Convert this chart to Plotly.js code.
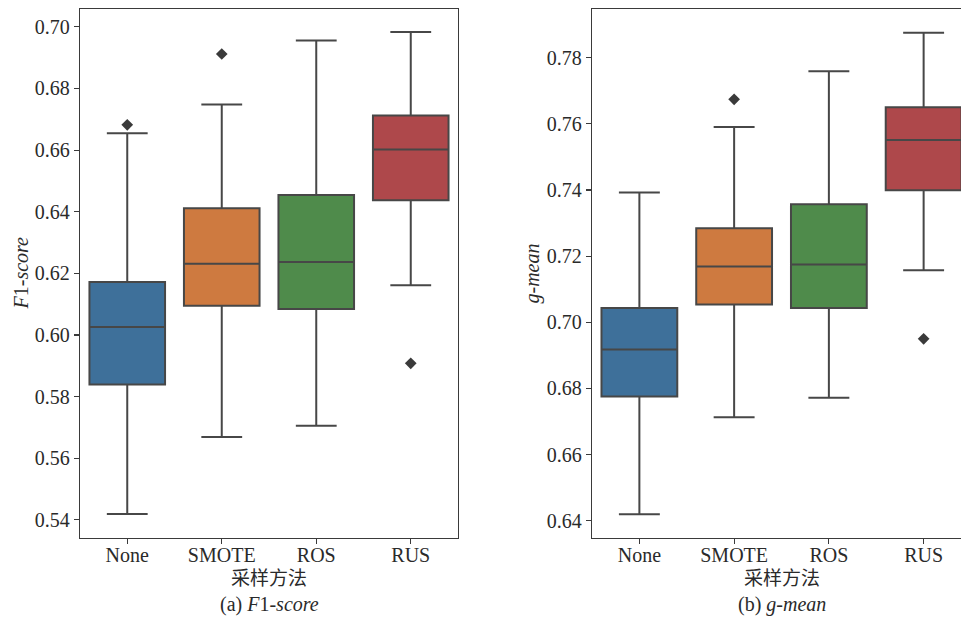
<!DOCTYPE html>
<html>
<head>
<meta charset="utf-8">
<script src="https://cdn.plot.ly/plotly-3.0.1.min.js"></script>
<style>
html, body { margin: 0; padding: 0; overflow: hidden; background: #fff; }
#chart { width: 972px; height: 617px; }
</style>
</head>
<body>
<div id="chart"></div>
<script>
// Categories and colors
const categories = ["None", "SMOTE", "ROS", "RUS"];
const boxColors = ["#3E709A", "#CE7A40", "#4F8B4B", "#AE484B"];

// (a) F1-score box statistics
const f1Lower  = [0.5419, 0.5669, 0.5705, 0.6161];
const f1Q1     = [0.5839, 0.6095, 0.6084, 0.6437];
const f1Median = [0.6026, 0.6231, 0.6237, 0.6602];
const f1Q3     = [0.6172, 0.6411, 0.6454, 0.6712];
const f1Upper  = [0.6655, 0.6748, 0.6956, 0.6983];
const f1OutlierCats = ["None", "SMOTE", "RUS"];
const f1OutlierVals = [0.6682, 0.6912, 0.5908];

// (b) g-mean box statistics
const gmLower  = [0.6420, 0.6713, 0.6772, 0.7157];
const gmQ1     = [0.6776, 0.7054, 0.7043, 0.7399];
const gmMedian = [0.6918, 0.7169, 0.7175, 0.7551];
const gmQ3     = [0.7043, 0.7284, 0.7357, 0.7650];
const gmUpper  = [0.7392, 0.7590, 0.7759, 0.7875];
const gmOutlierCats = ["SMOTE", "RUS"];
const gmOutlierVals = [0.7674, 0.6950];

const yTicksF1 = [0.54, 0.56, 0.58, 0.60, 0.62, 0.64, 0.66, 0.68, 0.70];
const yTicksGM = [0.64, 0.66, 0.68, 0.70, 0.72, 0.74, 0.76, 0.78];

const W = 972, H = 617;
const FONT = "Liberation Serif, Noto Sans CJK SC";
const lineCol = "#474747";

const traces = [];
function addBoxes(lower, q1, med, q3, upper, xa, ya) {
  categories.forEach((c, i) => {
    traces.push({
      type: "box", x: [c],
      lowerfence: [lower[i]], q1: [q1[i]], median: [med[i]], q3: [q3[i]], upperfence: [upper[i]],
      xaxis: xa, yaxis: ya,
      width: 0.8, whiskerwidth: 0.54,
      fillcolor: boxColors[i],
      line: { color: lineCol, width: 2 },
      boxpoints: false, showlegend: false, hoverinfo: "skip"
    });
  });
}
addBoxes(f1Lower, f1Q1, f1Median, f1Q3, f1Upper, "x", "y");
addBoxes(gmLower, gmQ1, gmMedian, gmQ3, gmUpper, "x2", "y2");
traces.push({ type: "scatter", mode: "markers", x: f1OutlierCats, y: f1OutlierVals, xaxis: "x", yaxis: "y",
  marker: { symbol: "diamond", size: 9, color: "#3a3a3a" }, showlegend: false, hoverinfo: "skip" });
traces.push({ type: "scatter", mode: "markers", x: gmOutlierCats, y: gmOutlierVals, xaxis: "x2", yaxis: "y2",
  marker: { symbol: "diamond", size: 9, color: "#3a3a3a" }, showlegend: false, hoverinfo: "skip" });

const axBase = {
  showline: true, mirror: true, linecolor: "#3a3a3a", linewidth: 1.3,
  ticks: "outside", ticklen: 5, tickwidth: 1.2, tickcolor: "#3a3a3a",
  showgrid: false, zeroline: false,
  tickfont: { family: FONT, size: 20, color: "#2a2a2a" }
};
const px = v => v / W;
const py = v => (538 - v) / 529;

const layout = {
  width: W, height: H,
  margin: { l: 0, r: 0, t: 9, b: 79 },
  paper_bgcolor: "#fff", plot_bgcolor: "#fff",
  boxmode: "overlay", showlegend: false,
  font: { family: FONT, color: "#2a2a2a" },
  xaxis: Object.assign({}, axBase, { domain: [px(80), px(458)], type: "category",
    categoryorder: "array", categoryarray: categories, range: [-0.5, 3.5], anchor: "y", ticklabelstandoff: -6 }),
  yaxis: Object.assign({}, axBase, { range: [0.5341, 0.7058], tickvals: yTicksF1,
    tickformat: ".2f", anchor: "x" }),
  xaxis2: Object.assign({}, axBase, { domain: [px(592), px(971)], type: "category",
    categoryorder: "array", categoryarray: categories, range: [-0.5, 3.5], anchor: "y2", ticklabelstandoff: -6 }),
  yaxis2: Object.assign({}, axBase, { range: [0.6348, 0.7947], tickvals: yTicksGM,
    tickformat: ".2f", anchor: "x2" }),
  annotations: [
    { text: "采样方法", xref: "paper", yref: "paper", x: px(269), y: py(578), xanchor: "center", yanchor: "middle",
      showarrow: false, font: { family: FONT, size: 19, color: "#2a2a2a" } },
    { text: "采样方法", xref: "paper", yref: "paper", x: px(781.5), y: py(578), xanchor: "center", yanchor: "middle",
      showarrow: false, font: { family: FONT, size: 19, color: "#2a2a2a" } },
    { text: "(a) <i>F</i>1-<i>score</i>", xref: "paper", yref: "paper", x: px(269), y: py(604), xanchor: "center", yanchor: "middle",
      showarrow: false, font: { family: FONT, size: 20, color: "#2a2a2a" } },
    { text: "(b) <i>g-mean</i>", xref: "paper", yref: "paper", x: px(781.5), y: py(604), xanchor: "center", yanchor: "middle",
      showarrow: false, font: { family: FONT, size: 20, color: "#2a2a2a" } },
    { text: "<i>F</i>1-<i>score</i>", xref: "paper", yref: "paper", x: px(20), y: py(273.5), xanchor: "center", yanchor: "middle",
      textangle: -90, showarrow: false, font: { family: FONT, size: 20, color: "#2a2a2a" } },
    { text: "<i>g-mean</i>", xref: "paper", yref: "paper", x: px(532), y: py(273.5), xanchor: "center", yanchor: "middle",
      textangle: -90, showarrow: false, font: { family: FONT, size: 20, color: "#2a2a2a" } }
  ]
};

Plotly.newPlot("chart", traces, layout, { staticPlot: true, displayModeBar: false });
</script>
</body>
</html>
